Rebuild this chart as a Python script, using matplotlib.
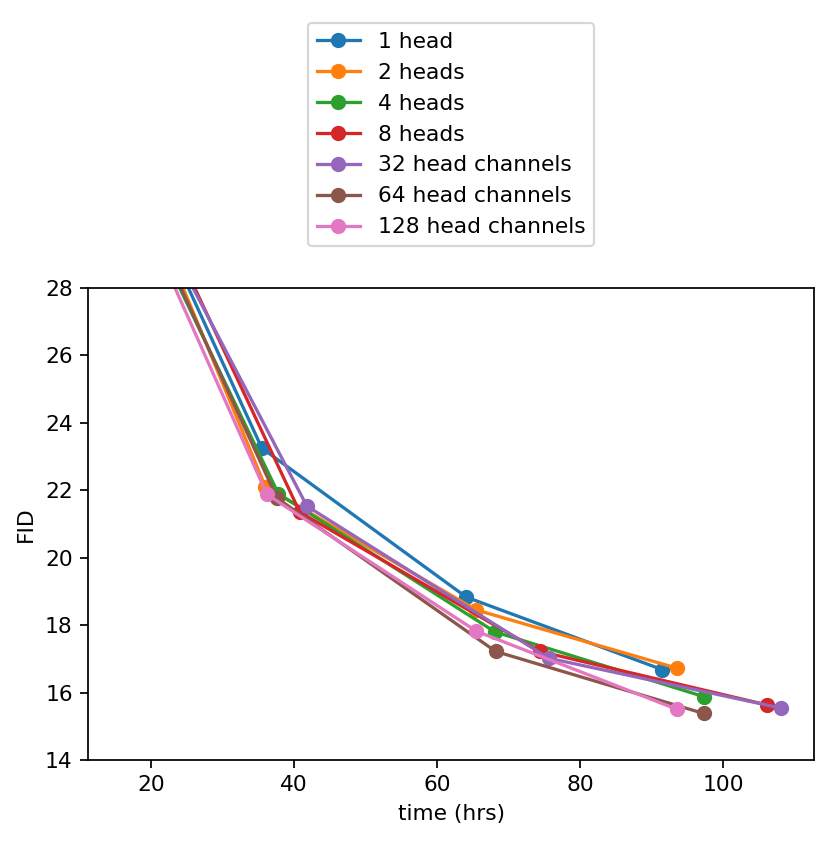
import matplotlib
matplotlib.use("Agg")
import matplotlib.pyplot as plt

# time (hrs) / FID per run, first point of each run is above the visible range
labels = ["1 head", "2 heads", "4 heads", "8 heads",
          "32 head channels", "64 head channels", "128 head channels"]

time_1 = [17.0, 35.5, 64.1, 91.5]
fid_1 = [31.8, 23.25, 18.83, 16.68]
time_2 = [16.5, 36.0, 65.5, 93.6]
fid_2 = [32.1, 22.1, 18.45, 16.72]
time_4 = [16.2, 37.8, 68.1, 97.3]
fid_4 = [31.45, 21.9, 17.8, 15.88]
time_8 = [17.5, 40.8, 74.4, 106.2]
fid_8 = [31.9, 21.35, 17.22, 15.63]
time_32 = [17.5, 41.8, 75.6, 108.1]
fid_32 = [31.4, 21.53, 17.02, 15.54]
time_64 = [16.3, 37.6, 68.2, 97.3]
fid_64 = [31.67, 21.77, 17.22, 15.38]
time_128 = [15.8, 36.2, 65.5, 93.6]
fid_128 = [31.6, 21.88, 17.82, 15.5]

times = [time_1, time_2, time_4, time_8, time_32, time_64, time_128]
fids = [fid_1, fid_2, fid_4, fid_8, fid_32, fid_64, fid_128]

dpi = 157
fig = plt.figure(figsize=(830 / dpi, 841 / dpi), dpi=dpi)
ax = fig.add_axes([88 / 830, 81 / 841, 726 / 830, 472 / 841])

for t, f, lab in zip(times, fids, labels):
    ax.plot(t, f, marker="o", label=lab)

ax.set_ylim(14, 28)
ax.set_xlabel("time (hrs)")
ax.set_ylabel("FID")
ax.legend(loc="lower center", bbox_to_anchor=(0.5, 1.089), borderaxespad=0)

fig.savefig("out.png", dpi=dpi)
